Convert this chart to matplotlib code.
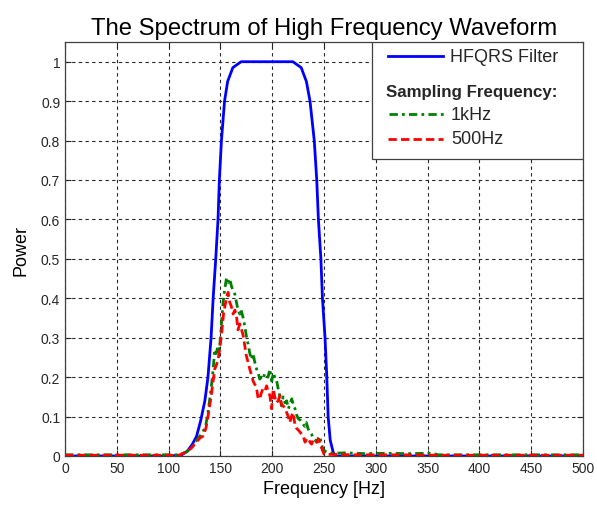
import matplotlib
matplotlib.use("Agg")
import matplotlib.pyplot as plt
from matplotlib.lines import Line2D
from matplotlib.patches import Rectangle

plt.rcParams['font.family'] = ['Liberation Sans', 'DejaVu Sans']

# HFQRS filter response
filt_f = [0, 100, 112, 118, 123, 127, 131, 135, 138, 141, 143, 145.5, 147.7, 149, 151, 154, 157,
          162, 170, 220, 228, 233, 236.5, 240.6, 243, 244.6, 247, 248.5, 251, 252.7, 254,
          256, 259, 262, 300, 500]
filt_v = [0, 0, 0.002, 0.012, 0.03, 0.05, 0.09, 0.14, 0.2, 0.3, 0.4, 0.5, 0.6, 0.7, 0.8, 0.9, 0.95,
          0.985, 1.0, 1.0, 0.985, 0.95, 0.9, 0.8, 0.7, 0.6, 0.5, 0.4, 0.3, 0.2, 0.1,
          0.04, 0.008, 0.0, 0.0, 0.0]

# Spectrum sampled at 1 kHz
g_f = [0, 50, 100, 110, 117, 122, 127, 130, 133, 136, 138, 141, 143, 144.5, 146, 147.7, 149, 150,
       152.6, 154, 155.8, 157.5, 159, 160.7, 162.3, 164, 165.5, 167, 168.7, 170, 172, 173.5, 175,
       177, 178.4, 180, 181.6, 183, 185, 186.5, 188, 189.5, 191, 193, 194.6, 196, 197.8, 199.5,
       201, 202.5, 204, 205.8, 207.5, 209, 210.5, 212.3, 214, 215.6, 217, 218.8, 220.5, 222,
       223.5, 225, 227.5, 230, 231.5, 233, 234.5, 236.5, 238, 240, 241.5, 243, 244.5, 246, 247.5,
       249, 251, 253, 255, 260, 270, 290, 310, 330, 355, 360, 400, 500]
g_v = [0.003, 0.003, 0.003, 0.003, 0.01, 0.02, 0.04, 0.05, 0.06, 0.08, 0.11, 0.17, 0.22, 0.27, 0.26, 0.28, 0.27, 0.30,
       0.39, 0.42, 0.45, 0.44, 0.45, 0.43, 0.42, 0.41, 0.39, 0.37, 0.36, 0.37, 0.35, 0.33, 0.305,
       0.28, 0.26, 0.245, 0.26, 0.24, 0.22, 0.21, 0.195, 0.2, 0.195, 0.21, 0.205, 0.2, 0.22, 0.19,
       0.21, 0.2, 0.195, 0.17, 0.15, 0.127, 0.15, 0.135, 0.14, 0.12, 0.13, 0.145, 0.13, 0.12,
       0.105, 0.095, 0.09, 0.08, 0.075, 0.085, 0.07, 0.06, 0.055, 0.043, 0.04, 0.035, 0.045, 0.05, 0.03,
       0.018, 0.012, 0.01, 0.008, 0.007, 0.008, 0.006, 0.007, 0.006, 0.007, 0.003, 0.003, 0.003]

# Spectrum sampled at 500 Hz
r_f = [0, 50, 100, 110, 117, 122, 126.7, 130, 133, 136, 138, 141, 143, 144.5, 146, 147.7, 148.7,
       151, 153, 155.8, 157.4, 159, 160.5, 162.3, 164, 165.5, 167, 168.7, 170.5, 172, 173.5, 175,
       176.5, 178.4, 180, 181.6, 183.5, 185, 186.5, 188, 189.5, 191, 193, 194.6, 196, 197.8,
       199.4, 201, 202.5, 204, 205.8, 207.5, 209, 210.7, 212.5, 214, 215.5, 217, 218.5, 220,
       222, 223.6, 225.5, 227, 228.5, 230, 231.7, 233.5, 235, 236.5, 238, 239.5, 241.4, 243,
       244.6, 246.5, 248, 250, 253, 258, 280, 320, 360, 500]
r_v = [0.002, 0.002, 0.002, 0.002, 0.01, 0.02, 0.035, 0.045, 0.05, 0.07, 0.10, 0.15, 0.19, 0.22, 0.23, 0.245, 0.26,
       0.305, 0.36, 0.40, 0.415, 0.39, 0.38, 0.36, 0.37, 0.355, 0.32, 0.335, 0.32, 0.305, 0.28, 0.255,
       0.24, 0.22, 0.205, 0.19, 0.18, 0.17, 0.145, 0.145, 0.16, 0.17, 0.165, 0.178, 0.165, 0.153,
       0.12, 0.17, 0.15, 0.135, 0.14, 0.153, 0.13, 0.127, 0.12, 0.11, 0.1, 0.085, 0.1, 0.11,
       0.08, 0.07, 0.065, 0.06, 0.055, 0.05, 0.035, 0.045, 0.043, 0.035, 0.03, 0.04, 0.04, 0.035,
       0.043, 0.03, 0.018, 0.005, 0.004, 0.004, 0.003, 0.003, 0.002, 0.002]

xticks = [0, 50, 100, 150, 200, 250, 300, 350, 400, 450, 500]
yticks = [0, 0.1, 0.2, 0.3, 0.4, 0.5, 0.6, 0.7, 0.8, 0.9, 1]
ytick_labels = ['0', '0.1', '0.2', '0.3', '0.4', '0.5', '0.6', '0.7', '0.8', '0.9', '1']

fig = plt.figure(figsize=(5.97, 5.06), dpi=100)
ax = fig.add_axes([65/597, 49/506, 518/597, 414/506])

ax.plot(filt_f, filt_v, color='#0000ff', lw=2.0, zorder=3)
ax.plot(g_f, g_v, color='#008000', lw=2.0, ls=(0, (3, 1.5, 1, 1.5)), zorder=4)
ax.plot(r_f, r_v, color='#ff0000', lw=2.0, ls=(0, (3, 1.5)), zorder=5)

ax.set_xlim(0, 500)
ax.set_ylim(0, 1.05)
ax.set_xticks(xticks)
ax.set_yticks(yticks)
ax.set_yticklabels(ytick_labels)
ax.tick_params(direction='in', top=True, right=True, labelsize=10, length=4,
               colors='#262626', labelcolor='#262626')
ax.grid(True, color='#262626', ls=(0, (3, 3)), lw=0.8)
for s in ax.spines.values():
    s.set_color('#404040')
    s.set_linewidth(0.9)

ax.set_title('The Spectrum of High Frequency Waveform', fontsize=17.2, pad=6)
ax.set_xlabel('Frequency [Hz]', fontsize=13, labelpad=4)
ax.set_ylabel('Power', fontsize=13, labelpad=8)

# Legend box drawn in axes coordinates
def ax_x(px):
    return (px - 65) / 518

def ax_y(py):
    return (457 - py) / 414

ax.add_patch(Rectangle((ax_x(372), ax_y(160)), ax_x(583) - ax_x(372), ax_y(43) - ax_y(160),
                       transform=ax.transAxes, facecolor='white', edgecolor='#404040',
                       lw=0.9, zorder=10))
ax.add_line(Line2D([ax_x(388), ax_x(443)], [ax_y(57)] * 2, transform=ax.transAxes,
                   color='#0000ff', lw=2.0, zorder=11))
ax.text(ax_x(450), ax_y(57), 'HFQRS Filter', transform=ax.transAxes, fontsize=13,
        va='center', ha='left', color='#262626', zorder=11)
ax.text(ax_x(386), ax_y(92), 'Sampling Frequency:', transform=ax.transAxes, fontsize=12.2,
        fontweight='bold', va='center', ha='left', color='#262626', zorder=11)
ax.add_line(Line2D([ax_x(389), ax_x(446)], [ax_y(115)] * 2, transform=ax.transAxes,
                   color='#008000', lw=2.0, ls=(0, (3, 1.5, 1, 1.5)), zorder=11))
ax.text(ax_x(451), ax_y(115), '1kHz', transform=ax.transAxes, fontsize=13,
        va='center', ha='left', color='#262626', zorder=11)
ax.add_line(Line2D([ax_x(388), ax_x(443)], [ax_y(140)] * 2, transform=ax.transAxes,
                   color='#ff0000', lw=2.0, ls=(0, (3, 1.5)), zorder=11))
ax.text(ax_x(451), ax_y(140), '500Hz', transform=ax.transAxes, fontsize=13,
        va='center', ha='left', color='#262626', zorder=11)

fig.savefig('out.png', dpi=100, facecolor='white')
